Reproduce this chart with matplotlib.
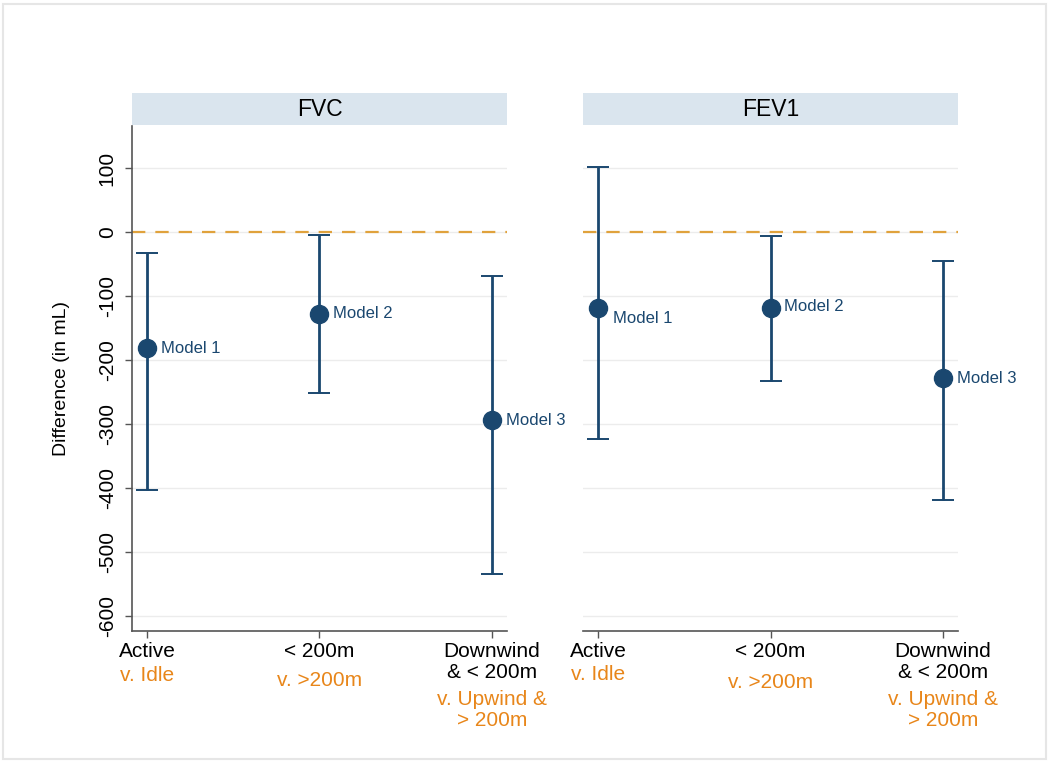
import numpy as np
import matplotlib.pyplot as plt
from matplotlib.patches import Rectangle

plt.rcParams['font.family'] = ['Liberation Sans', 'DejaVu Sans']

# panels, models and category labels
outcomes = ['FVC', 'FEV1']
models = ['Model 1', 'Model 2', 'Model 3']
main_labels = ['Active', '< 200m', 'Downwind\n& < 200m']
ref_labels = ['v. Idle', 'v. >200m', 'v. Upwind &\n> 200m']
y_ticks = [100, 0, -100, -200, -300, -400, -500, -600]

# estimates and 95% CI (mL)
fvc_est = [-181, -127, -294]
fvc_lo = [-402, -251, -534]
fvc_hi = [-32, -4, -68]
fev1_est = [-119, -118, -228]
fev1_lo = [-323, -232, -419]
fev1_hi = [102, -6, -45]

navy = '#1a476f'
orange = '#e8861a'
dash_col = '#e0a23c'
strip_col = '#dae5ee'

W, H = 1050, 765
fig = plt.figure(figsize=(W / 100, H / 100), dpi=100)

# light frame round the whole graph
fig.patches.append(Rectangle((3 / W, 6 / H), 1043 / W, 755 / H, transform=fig.transFigure,
                             fill=False, edgecolor='#e6e6e6', linewidth=1.5))

panels = [
    (fvc_est, fvc_lo, fvc_hi, 132),
    (fev1_est, fev1_lo, fev1_hi, 583),
]
# label offsets (points) for the model names, and for the orange sub-labels
name_offsets = [
    [(10, 0), (10, 0), (10, 0)],
    [(11, -7), (10, 1), (10, 0)],
]
ref_offsets = [[-32, -36, -57], [-31, -37, -57]]

x = np.arange(1, 4)
for i, (est, lo, hi, left_px) in enumerate(panels):
    ax = fig.add_axes([left_px / W, 134 / H, 375 / W, 505 / H])
    ax.set_xlim(0.913, 3.087)
    ax.set_ylim(-623, 166)

    ax.set_yticks(y_ticks)
    ax.yaxis.grid(True, color='#ececec', linewidth=1.0)
    ax.set_axisbelow(True)
    ax.axhline(0, color=dash_col, linewidth=1.6, dashes=(6, 4.5), zorder=1)

    est = np.array(est)
    yerr = [est - np.array(lo), np.array(hi) - est]
    ax.errorbar(x, est, yerr=yerr, fmt='o', color=navy, ecolor=navy, elinewidth=2,
                capsize=8, capthick=1.4, markersize=13, zorder=3)

    for j, name in enumerate(models):
        ax.annotate(name, (x[j], est[j]), xytext=name_offsets[i][j],
                    textcoords='offset points', ha='left', va='center',
                    fontsize=12, color=navy)

    ax.set_xticks(x)
    ax.set_xticklabels(main_labels, fontsize=15, linespacing=1.15)
    ax.tick_params(axis='x', length=5, width=1, color='#555555', pad=3)
    for j, ref in enumerate(ref_labels):
        ax.annotate(ref, (x[j], 0), xycoords=('data', 'axes fraction'),
                    xytext=(0, ref_offsets[i][j]), textcoords='offset points',
                    ha='center', va='center', fontsize=15, color=orange,
                    linespacing=1.12)

    for s in ['top', 'right']:
        ax.spines[s].set_visible(False)
    ax.spines['bottom'].set_color('#555555')
    ax.spines['bottom'].set_linewidth(1.2)
    if i == 0:
        ax.spines['left'].set_color('#555555')
        ax.spines['left'].set_linewidth(1.2)
        ax.set_yticklabels([str(t) for t in y_ticks], rotation=90, va='center', fontsize=15)
        ax.tick_params(axis='y', length=5, width=1, color='#555555', pad=6)
    else:
        ax.spines['left'].set_visible(False)
        ax.tick_params(axis='y', left=False, labelleft=False)

    # panel header strip
    sax = fig.add_axes([left_px / W, 640 / H, 375 / W, 32 / H])
    sax.set_facecolor(strip_col)
    sax.set_xticks([])
    sax.set_yticks([])
    for s in sax.spines.values():
        s.set_visible(False)
    sax.text(0.5, 0.5, outcomes[i], ha='center', va='center', fontsize=16.5,
             transform=sax.transAxes)

fig.text(62 / W, 1 - 378 / H, 'Difference (in mL)', rotation=90, ha='center',
         va='center', fontsize=14)

plt.savefig('out.png', dpi=100)
